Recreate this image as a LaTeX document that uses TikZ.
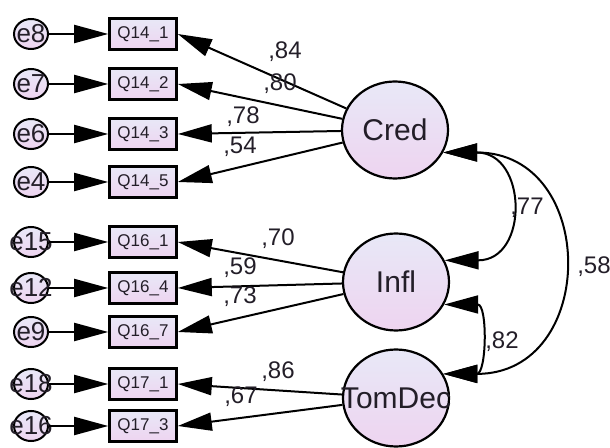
\documentclass[tikz,border=0pt]{standalone}
\usepackage{fontspec}
\setmainfont{Liberation Sans}
\usetikzlibrary{arrows.meta,shapes.geometric}
\definecolor{lavA}{RGB}{232,232,247}
\definecolor{lavB}{RGB}{238,212,240}
\definecolor{txt}{RGB}{35,30,40}
\begin{document}
\begin{tikzpicture}[x=1pt,y=1pt,
  conn/.style={line width=2pt, draw=black, -{Triangle[length=34pt,width=18pt]}},
  cov/.style={line width=2pt, draw=black, {Triangle[length=34pt,width=18pt]}-{Triangle[length=34pt,width=18pt]}},
  obs/.style={rectangle, draw=black, line width=2.6pt, top color=lavA, bottom color=lavB, minimum width=67pt, minimum height=31pt, inner sep=0pt, font=\fontsize{17}{17}\selectfont, text=txt},
  err/.style={ellipse, draw=black, line width=2pt, top color=lavA, bottom color=lavB, minimum width=34pt, minimum height=30pt, inner sep=0pt},
  errlab/.style={font=\fontsize{26}{26}\selectfont, text=txt, inner sep=0pt},
  lat/.style={ellipse, draw=black, line width=2.2pt, top color=lavA, bottom color=lavB, minimum width=106pt, minimum height=97pt, inner sep=0pt},
  latlab/.style={font=\fontsize{30}{30}\selectfont, text=txt, inner sep=0pt},
  coef/.style={font=\fontsize{24}{24}\selectfont, text=txt, inner sep=0pt}
]
\useasboundingbox (0,0) rectangle (610,447);

% latent variables
\node[lat, label={[latlab]center:Cred}] (Cred) at (395,317) {};
\node[lat, label={[latlab]center:Infl}] (Infl) at (396,165) {};
\node[lat, label={[latlab]center:TomDec}] (TomDec) at (396,49) {};

% observed variables
\node[obs] (q141) at (143,413) {Q14\_1};
\node[obs] (q142) at (143,363) {Q14\_2};
\node[obs] (q143) at (143,313) {Q14\_3};
\node[obs] (q145) at (143,265) {Q14\_5};
\node[obs] (q161) at (143,205) {Q16\_1};
\node[obs] (q164) at (143,159) {Q16\_4};
\node[obs] (q167) at (143,115) {Q16\_7};
\node[obs] (q171) at (143,63) {Q17\_1};
\node[obs] (q173) at (143,21) {Q17\_3};

% error terms
\node[err, label={[errlab]center:e8}] (e8) at (31,413) {};
\node[err, label={[errlab]center:e7}] (e7) at (31,363) {};
\node[err, label={[errlab]center:e6}] (e6) at (31,313) {};
\node[err, label={[errlab]center:e4}] (e4) at (31,265) {};
\node[err, label={[errlab]center:e15}] (e15) at (31,205) {};
\node[err, label={[errlab]center:e12}] (e12) at (31,159) {};
\node[err, label={[errlab]center:e9}] (e9) at (31,115) {};
\node[err, label={[errlab]center:e18}] (e18) at (31,63) {};
\node[err, label={[errlab]center:e16}] (e16) at (31,21) {};

% error arrows
\draw[conn] (e8) -- (q141);
\draw[conn] (e7) -- (q142);
\draw[conn] (e6) -- (q143);
\draw[conn] (e4) -- (q145);
\draw[conn] (e15) -- (q161);
\draw[conn] (e12) -- (q164);
\draw[conn] (e9) -- (q167);
\draw[conn] (e18) -- (q171);
\draw[conn] (e16) -- (q173);

% loadings
\draw[conn] (Cred) -- (q141.east);
\draw[conn] (Cred) -- (q142.east);
\draw[conn] (Cred) -- (q143.east);
\draw[conn] (Cred) -- (q145.east);
\draw[conn] (Infl) -- (q161.east);
\draw[conn] (Infl) -- (q164.east);
\draw[conn] (Infl) -- (q167.east);
\draw[conn] (TomDec) -- (q171.east);
\draw[conn] (TomDec) -- (q173.east);

% covariances
\draw[cov] (Cred.-25) to[out=0,in=0,looseness=2.0] (Infl.24);
\draw[cov] (Cred.-25) to[out=0,in=0,looseness=1.8] (TomDec.27);
\draw[cov] (Infl.-25) to[out=0,in=0,looseness=1.6] (TomDec.27);

% coefficients
\node[coef] (c84) at (285,395) {,84};
\node[coef] (c80) at (280,363) {,80};
\node[coef] (c78) at (243,330) {,78};
\node[coef] (c54) at (240,300) {,54};
\node[coef] (c70) at (278,208) {,70};
\node[coef] (c59) at (240,179) {,59};
\node[coef] (c73) at (240,150) {,73};
\node[coef] (c86) at (278,75) {,86};
\node[coef] (c67) at (241,50) {,67};
\node[coef] (c77) at (527,239) {,77};
\node[coef] (c58) at (594,180) {,58};
\node[coef] (c82) at (502,105) {,82};
\end{tikzpicture}
\end{document}
